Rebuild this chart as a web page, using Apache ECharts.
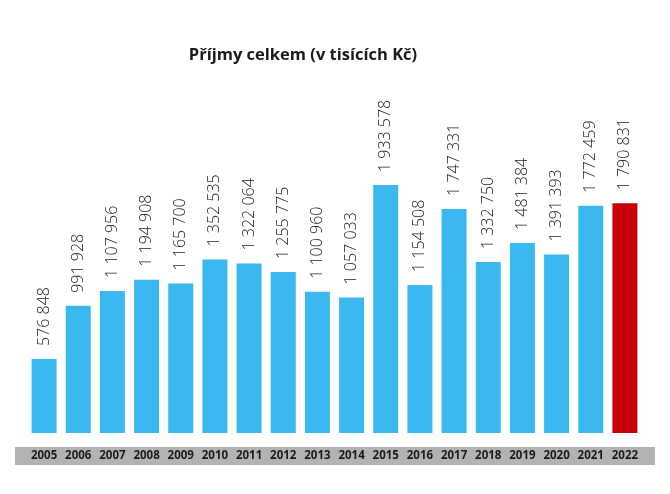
<!DOCTYPE html>
<html><head><meta charset="utf-8">
<script src="https://cdn.jsdelivr.net/npm/echarts@6/dist/echarts.min.js"></script>
<style>html,body{margin:0;padding:0;background:#fff}#c{width:670px;height:494px}</style>
</head><body><div id="c"></div>
<script>
const years = ['2005','2006','2007','2008','2009','2010','2011','2012','2013','2014','2015','2016','2017','2018','2019','2020','2021','2022'];
const income = [576848, 991928, 1107956, 1194908, 1165700, 1352535, 1322064, 1255775, 1100960, 1057033, 1933578, 1154508, 1747331, 1332750, 1481384, 1391393, 1772459, 1790831];
const titleText = 'Příjmy celkem (v tisících Kč)';

function fmt(v){ return String(v).replace(/\B(?=(\d{3})+(?!\d))/g, ' '); }

const chart = echarts.init(document.getElementById('c'));
chart.setOption({
  animation: false,
  backgroundColor: '#fff',
  title: { text: titleText, left: 298, top: 42, textAlign: 'center',
    textStyle: { fontFamily: 'Open Sans', fontWeight: 'bold', fontSize: 16.5, color: '#1a1a1a' } },
  graphic: [{ type: 'rect', left: 15, top: 447, shape: { width: 640, height: 18 }, style: { fill: '#b3b3b3' }, z: 0 }],
  grid: { left: 27, right: 28, top: 176.5, bottom: 61 },
  xAxis: { type: 'category', data: years,
    axisLine: { show: false }, axisTick: { show: false },
    axisLabel: { interval: 0, margin: 17, fontFamily: 'Open Sans', fontWeight: 'bold', fontSize: 11.5, color: '#1a1a1a' } },
  yAxis: { type: 'value', min: 0, max: 2000000, show: false, splitLine: { show: false } },
  series: [{ type: 'bar', barWidth: 25,
    data: income.map((v, i) => ({ value: v, itemStyle: { color: i === income.length - 1 ? '#c8000a' : '#3bb8ef' } })),
    label: { show: true, position: 'top', rotate: 90, align: 'left', verticalAlign: 'middle', distance: 13,
      fontFamily: 'Open Sans', fontWeight: 300, fontSize: 16, color: '#222', formatter: p => fmt(p.value) } }]
});
</script></body></html>
